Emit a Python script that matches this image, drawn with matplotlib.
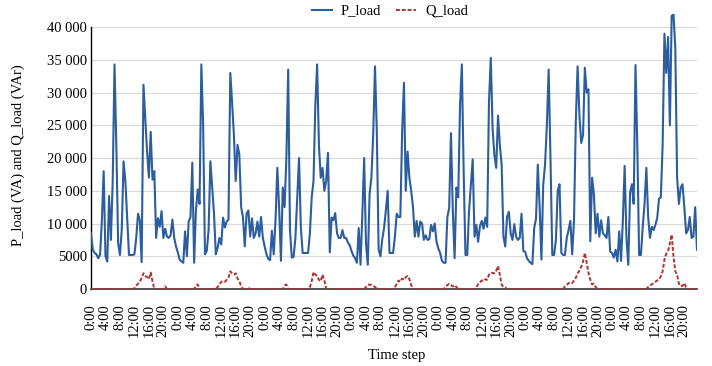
import matplotlib
matplotlib.use("Agg")
import matplotlib.pyplot as plt
import numpy as np

# ---- data (half-hourly samples, 7 days) ----
p_day1 = [8500, 6000, 5500, 5300, 4700, 5200, 10400, 18000, 5000, 4200, 14200, 7500,
          16500, 34300, 22000, 7000, 5200, 9000, 19500, 16500, 11000, 5200, 5200, 5200,
          5300, 7800, 11500, 10500, 4100, 31200, 26000, 21000, 17000, 24000, 16700, 18000,
          7800, 10800, 9500, 11900, 7800, 9200, 8000, 7800, 8200, 10600, 7800, 6500]
p_day2 = [5600, 4500, 4200, 4000, 8800, 5000, 10300, 11000, 19300, 4000, 12000, 15200,
          13000, 34300, 25000, 5300, 5800, 9000, 19500, 15500, 11500, 5300, 6300, 7800,
          6800, 10900, 9400, 10300, 10600, 33000, 28500, 23500, 16500, 22000, 20500, 12500,
          11000, 6500, 11500, 12000, 8000, 10800, 7800, 8500, 10300, 8000, 11000, 7800]
p_day3 = [6500, 5300, 4600, 4400, 8900, 5300, 10500, 18500, 12400, 4300, 15500, 12500,
          20000, 33500, 9000, 4800, 4900, 7800, 14000, 20000, 9500, 5500, 5500, 5500,
          5500, 8500, 14000, 16500, 28000, 34300, 22000, 17000, 18500, 15000, 16500, 20800,
          5600, 10900, 10500, 11600, 8500, 7800, 7800, 9000, 7800, 7800, 7100, 6700]
p_day4 = [5800, 5100, 4700, 4000, 9300, 3700, 11400, 20000, 7000, 3700, 14500, 17000,
          23600, 34000, 24000, 6000, 5000, 7600, 9300, 12000, 15000, 5500, 5500, 5500,
          8000, 11500, 11000, 11000, 24000, 31500, 15000, 21000, 17000, 15000, 12500, 8000,
          10400, 8000, 10300, 10000, 7500, 8200, 7500, 7600, 9800, 8800, 10000, 7200]
p_day5 = [6200, 5500, 4300, 4000, 4000, 11000, 12400, 23800, 12000, 4700, 15500, 14000,
          28000, 34300, 18000, 5200, 5200, 12000, 16000, 19800, 8000, 9800, 7200, 9600,
          10400, 9200, 10900, 9500, 28500, 35300, 24500, 20500, 18500, 26500, 22000, 19000,
          8000, 6500, 11000, 11800, 8500, 7500, 9900, 8000, 7500, 7800, 11500, 5800]
p_day6 = [5700, 4700, 4300, 4000, 3800, 9300, 10700, 19000, 12600, 4500, 16000, 19000,
          25000, 33500, 20000, 5200, 5200, 7500, 15000, 16000, 5500, 5200, 5200, 7800,
          9000, 10400, 5300, 10400, 25600, 34000, 26500, 22300, 23500, 33800, 30000, 30500,
          7300, 17000, 14500, 8500, 11500, 8000, 10500, 8500, 8200, 7800, 11000, 5700]
p_day7 = [5500, 4800, 6000, 4200, 8800, 4300, 10400, 18800, 7800, 3700, 14700, 16000,
          13000, 34200, 22000, 5200, 5200, 9500, 13000, 18500, 11000, 7800, 9500, 9000,
          9800, 10800, 13800, 14000, 22000, 39000, 33000, 38500, 25000, 41700, 42000, 36800,
          17000, 13000, 15500, 16000, 12500, 8500, 9000, 11000, 7800, 8000, 12500, 6000]

q_day1 = [0, 0, 0, 0, 0, 0, 0, 0, 0, 0, 0, 0, 0, 0, 0, 0, 0, 0, 0, 0, 0, 0, 0, 0,
          100, 500, 800, 1100, 1700, 2400, 2000, 1800, 1500, 2500, 1200, 0,
          0, 0, 0, 0, 0, 400, 0, 0, 0, 0, 0, 0]
q_day2 = [0, 0, 0, 0, 0, 0, 0, 0, 0, 0, 500, 700, 0, 0, 0, 0, 0, 0, 0, 0, 0, 0, 300, 700,
          1100, 1200, 1100, 1400, 1700, 2700, 2400, 2200, 2400, 1600, 1200, 400,
          0, 0, 0, 0, 200, 0, 0, 0, 0, 0, 0, 0]
q_day3 = [0, 0, 0, 0, 0, 0, 0, 0, 0, 0, 0, 500, 700, 0, 0, 0, 0, 0, 0, 0, 0, 0, 0, 0,
          0, 300, 1200, 2600, 2200, 2000, 1400, 1200, 2200, 1300, 0, 0,
          0, 0, 0, 0, 0, 0, 0, 0, 0, 0, 0, 0]
q_day4 = [0, 0, 0, 0, 0, 0, 0, 0, 300, 600, 700, 600, 500, 300, 0, 0, 0, 0, 0, 0, 0, 0, 0, 0,
          300, 800, 1300, 1100, 1600, 1400, 1800, 2000, 1500, 600, 0, 0,
          0, 0, 0, 0, 0, 0, 0, 0, 0, 0, 0, 0]
q_day5 = [0, 0, 0, 0, 300, 600, 800, 600, 400, 600, 300, 0, 0, 0, 0, 0, 0, 0, 0, 0, 0, 300, 700, 1000,
          1300, 1200, 1500, 1400, 2200, 2200, 2500, 2400, 2800, 3500, 2200, 700,
          300, 200, 0, 0, 0, 0, 0, 0, 0, 0, 0, 0]
q_day6 = [0, 0, 0, 0, 0, 0, 0, 0, 0, 0, 0, 0, 0, 0, 0, 0, 0, 0, 0, 0, 0, 0, 400, 600,
          900, 1000, 900, 1300, 1700, 2400, 2800, 3400, 4200, 5500, 4000, 2500,
          1400, 700, 800, 300, 0, 0, 0, 0, 0, 0, 0, 0]
q_day7 = [0, 0, 0, 0, 0, 0, 0, 0, 0, 0, 0, 0, 0, 0, 0, 0, 0, 0, 0, 0, 300, 500, 700, 900,
          1100, 1300, 1500, 1900, 2700, 4500, 5400, 5800, 7000, 8300, 5000, 2700,
          2200, 800, 400, 500, 900, 200, 0, 0, 0, 0, 0, 0]

day_tick_labels = ["0:00", "4:00", "8:00", "12:00", "16:00", "20:00"]
n_days = 7
y_ticks = [0, 5000, 10000, 15000, 20000, 25000, 30000, 35000, 40000]
y_tick_labels = ["0", "5000", "10 000", "15 000", "20 000", "25 000", "30 000", "35 000", "40 000"]
series_names = ["P_load", "Q_load"]
x_title = "Time step"
y_title = "P_load (VA) and Q_load (VAr)"

# ---- build ----
p_load = np.array(p_day1 + p_day2 + p_day3 + p_day4 + p_day5 + p_day6 + p_day7, dtype=float)
q_load = np.array(q_day1 + q_day2 + q_day3 + q_day4 + q_day5 + q_day6 + q_day7, dtype=float)
steps = np.arange(len(p_load))
steps_per_tick = 8  # 4 hours at half-hour resolution
xticks = np.arange(0, len(p_load), steps_per_tick)
xlabels = day_tick_labels * n_days

plt.rcParams['font.family'] = ['Liberation Serif', 'DejaVu Serif']
plt.rcParams['font.size'] = 10

fig = plt.figure(figsize=(7.12, 3.66), dpi=100)
W, H = 712, 366
ax = fig.add_axes([91 / W, 1 - 289 / H, (697 - 91) / W, (289 - 14) / H])

ax.plot(steps, p_load, color="#2b5d9f", lw=1.5, label=series_names[0], zorder=3)
ax.plot(steps, q_load, color="#b03434", lw=1.4, ls=(0, (2, 1)), label=series_names[1], zorder=3)

ax.set_xlim(0, len(p_load) - 1)
ax.set_ylim(0, max(p_load.max(), q_load.max()))

ax.set_yticks(y_ticks)
ax.set_yticklabels(y_tick_labels)
ax.set_xticks(xticks)
ax.set_xticklabels(xlabels, rotation=90)
ax.tick_params(axis='y', length=0, pad=3, labelsize=10.5)
ax.tick_params(axis='x', length=0, pad=11, labelsize=10.5)

ax.grid(axis='y', color="#d9d9d9", lw=0.8, zorder=0)
ax.set_axisbelow(True)
for s in ['top', 'right']:
    ax.spines[s].set_visible(False)
ax.spines['left'].set_color('black')
ax.spines['left'].set_linewidth(1.0)
ax.spines['left'].set_bounds(0, 40000)
ax.spines['bottom'].set_color('#333333')
ax.spines['bottom'].set_linewidth(1.2)

fig.text(18 / W, 1 - 155 / H, y_title, rotation=90, ha='center', va='center', fontsize=10.5)
fig.text(397 / W, 1 - 355 / H, x_title, ha='center', va='center', fontsize=10.5)

fig.legend(loc='center', bbox_to_anchor=(390 / W, 1 - 11 / H), ncol=2, frameon=False,
           handlelength=1.4, handletextpad=0.6, columnspacing=1.0, borderpad=0, fontsize=10.5)

fig.savefig("out.png", dpi=100)
